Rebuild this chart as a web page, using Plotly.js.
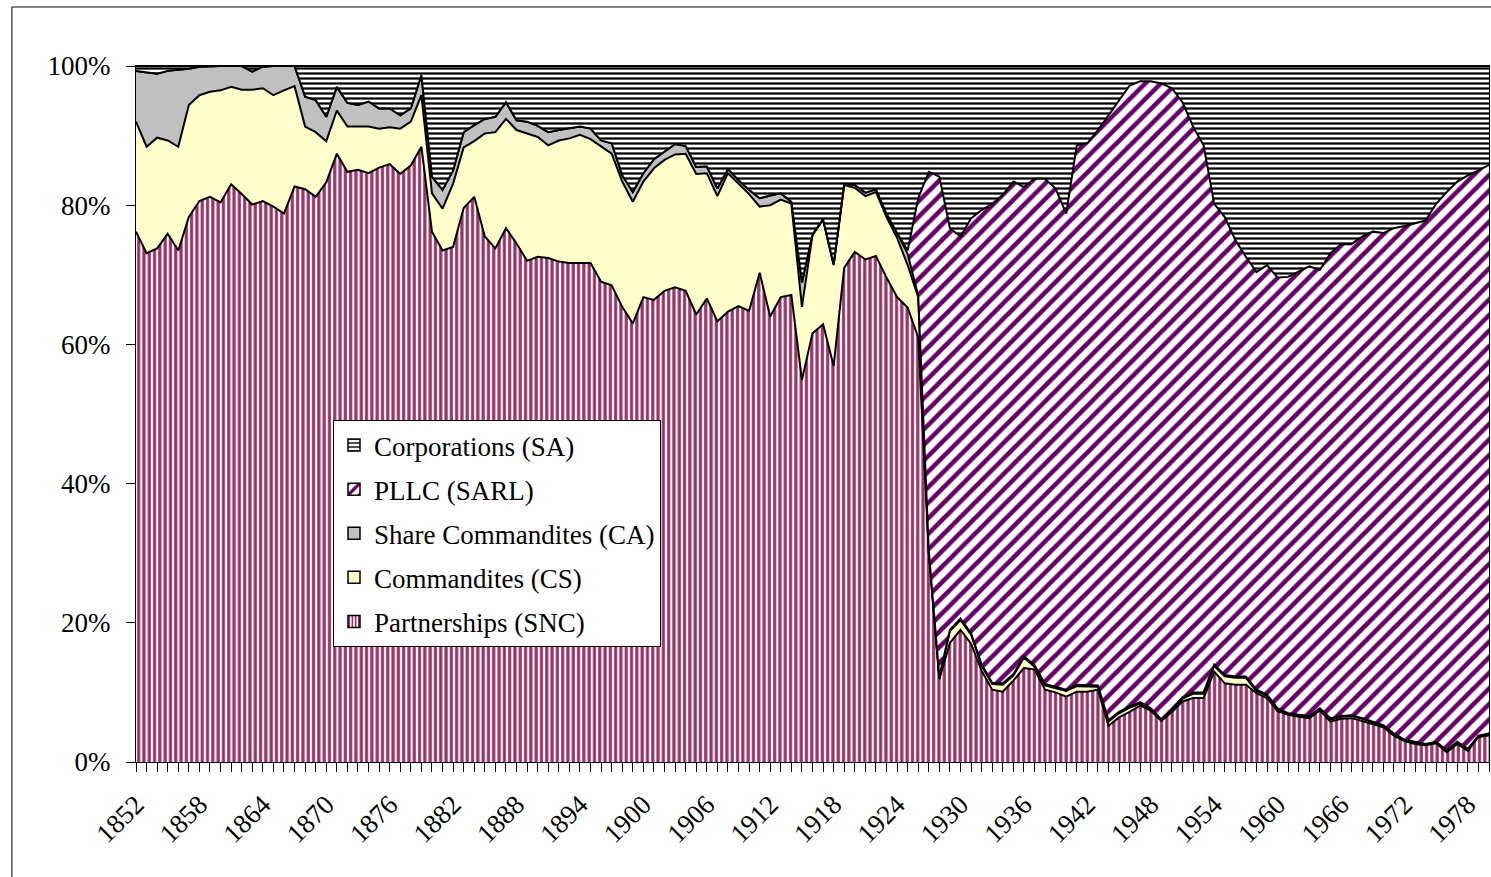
<!DOCTYPE html>
<html>
<head>
<meta charset="utf-8">
<script src="https://cdn.plot.ly/plotly-3.0.1.min.js"></script>
<style>
  html, body { margin: 0; padding: 0; background: #ffffff; }
  #chart { width: 1491px; height: 877px; }
</style>
</head>
<body>
<div id="chart"></div>
<script>
// Categories: years
var years = [
  1852,1853,1854,1855,1856,1857,1858,1859,1860,1861,
  1862,1863,1864,1865,1866,1867,1868,1869,1870,1871,
  1872,1873,1874,1875,1876,1877,1878,1879,1880,1881,
  1882,1883,1884,1885,1886,1887,1888,1889,1890,1891,
  1892,1893,1894,1895,1896,1897,1898,1899,1900,1901,
  1902,1903,1904,1905,1906,1907,1908,1909,1910,1911,
  1912,1913,1914,1915,1916,1917,1918,1919,1920,1921,
  1922,1923,1924,1925,1926,1927,1928,1929,1930,1931,
  1932,1933,1934,1935,1936,1937,1938,1939,1940,1941,
  1942,1943,1944,1945,1946,1947,1948,1949,1950,1951,
  1952,1953,1954,1955,1956,1957,1958,1959,1960,1961,
  1962,1963,1964,1965,1966,1967,1968,1969,1970,1971,
  1972,1973,1974,1975,1976,1977,1978,1979,1980
];

// Partnerships (SNC), % of total
var snc = [
  76.2,73.1,73.8,75.9,73.5,78.3,80.6,81.2,80.4,83.0,
  81.6,80.1,80.6,79.8,78.8,82.7,82.3,81.2,83.3,87.4,
  84.8,85.1,84.6,85.4,85.9,84.5,85.7,88.4,76.2,73.5,
  74.0,79.6,81.2,75.5,73.8,76.7,74.5,72.0,72.6,72.4,
  71.9,71.7,71.7,71.7,69.0,68.5,65.4,63.0,66.8,66.4,
  67.7,68.2,67.7,64.3,66.6,63.3,64.7,65.5,64.8,70.3,
  64.0,66.8,67.1,54.9,61.6,62.9,56.9,71.0,73.3,72.2,
  72.7,69.6,66.8,65.3,61.0,30.0,11.9,17.1,19.0,17.0,
  13.1,10.4,10.1,11.7,13.5,13.3,10.4,10.0,9.4,10.1,
  10.1,10.4,5.2,6.4,7.2,8.1,7.4,5.9,7.2,8.7,
  9.2,9.2,13.0,11.3,11.1,11.1,9.9,9.2,7.3,6.8,
  6.5,6.3,7.4,5.8,6.2,6.3,5.9,5.5,5.0,3.8,
  3.0,2.6,2.4,2.7,1.4,2.6,1.6,3.6,3.8
];

// Commandites (CS)
var cs = [
  15.8,15.3,15.9,13.4,14.9,16.1,15.2,15.1,16.1,14.0,
  15.0,16.5,16.2,16.0,17.7,14.4,9.0,9.3,5.9,6.2,
  6.5,6.2,6.7,5.6,5.3,6.5,6.3,7.4,5.5,6.0,
  9.1,8.7,8.0,14.8,16.7,15.7,16.3,18.3,17.2,16.2,
  17.4,17.9,18.4,17.8,19.4,18.9,18.0,17.5,16.6,18.9,
  18.8,19.1,19.7,20.2,18.0,18.0,19.9,17.6,16.8,9.5,
  16.0,14.0,13.1,10.5,14.1,15.0,14.5,11.9,9.2,9.1,
  9.2,8.7,8.5,6.1,5.8,0.3,0.2,1.7,1.4,1.3,
  0.7,0.8,1.0,0.7,1.5,0.4,0.6,0.6,0.8,0.8,
  0.8,0.4,0.6,0.6,0.6,0.3,0.1,0.1,0.2,0.4,
  0.6,0.6,0.8,1.0,1.0,1.0,0.3,0.3,0.2,0.1,
  0.2,0.2,0.2,0.3,0.3,0.3,0.3,0.2,0.2,0.2,
  0.1,0.2,0.1,0.1,0.2,0.2,0.2,0.1,0.2
];

// Share Commandites (CA)
var ca = [
  7.3,10.7,9.2,10.0,11.0,5.2,4.1,3.7,3.5,3.0,
  3.4,2.6,3.1,4.2,3.5,2.9,4.3,4.6,3.5,3.4,
  3.4,3.1,3.6,2.9,2.7,1.9,1.9,2.9,2.4,2.7,
  1.9,2.2,2.3,2.1,2.2,2.4,1.4,1.7,1.6,1.9,
  1.5,1.4,1.2,1.5,0.9,1.5,0.9,1.4,1.2,1.3,
  1.2,1.5,1.1,1.0,1.0,1.1,0.6,0.5,0.6,1.2,
  1.4,0.9,0.3,3.5,0.1,0.1,0.1,0.2,0.4,0.5,
  0.4,0.5,0.7,1.6,0.2,0.1,0.1,0.2,0.2,0.2,
  0.2,0.2,0.2,0.2,0.2,0.2,0.2,0.2,0.2,0.2,
  0.2,0.2,0.2,0.2,0.2,0.2,0.2,0.1,0.2,0.2,
  0.2,0.2,0.2,0.2,0.2,0.2,0.2,0.2,0.2,0.1,
  0.1,0.1,0.1,0.2,0.1,0.1,0.1,0.1,0.1,0.1,
  0.1,0.1,0.1,0.1,0.1,0.1,0.1,0.1,0.1
];

// PLLC (SARL)
var sarl = [
  0,0,0,0,0,0,0,0,0,0,
  0,0,0,0,0,0,0,0,0,0,
  0,0,0,0,0,0,0,0,0,0,
  0,0,0,0,0,0,0,0,0,0,
  0,0,0,0,0,0,0,0,0,0,
  0,0,0,0,0,0,0,0,0,0,
  0,0,0,0,0,0,0,0,0,0,
  0,0,0,0.5,14.0,54.4,71.9,57.7,54.9,59.6,
  65.3,68.8,70.2,70.8,67.4,69.9,72.6,71.6,68.4,77.5,
  77.8,79.8,86.9,87.9,89.2,89.2,90.1,91.4,89.2,85.5,
  81.3,78.6,66.2,65.8,62.7,60.3,60.0,61.7,61.9,62.7,
  63.6,64.6,63.0,66.8,67.8,67.7,69.2,70.4,70.7,72.6,
  73.8,74.5,75.2,77.3,80.2,80.5,82.4,81.2,81.7
];

// Corporations (SA)
var sa = [
  0.7,0.9,1.1,0.7,0.6,0.4,0.1,0,0,0,
  0,0.8,0.1,0,0,0,4.4,4.9,7.3,3.0,
  5.3,5.6,5.1,6.1,6.1,7.1,6.1,1.3,15.9,17.8,
  15.0,9.5,8.5,7.6,7.3,5.2,7.8,8.0,8.6,9.5,
  9.2,9.0,8.7,9.0,10.7,11.1,15.7,18.1,15.4,13.4,
  12.3,11.2,11.5,14.5,14.4,17.6,14.8,16.4,17.8,19.0,
  18.6,18.3,19.5,31.1,24.2,22.0,28.5,16.9,17.1,18.2,
  17.7,21.2,24.0,26.5,19.0,15.2,15.9,23.3,24.5,21.9,
  20.7,19.8,18.5,16.6,17.4,16.2,16.2,17.6,21.2,11.4,
  11.1,9.2,7.1,4.9,2.8,2.2,2.2,2.5,3.2,5.2,
  8.7,11.4,19.8,21.7,25.0,27.4,29.6,28.6,30.4,30.3,
  29.6,28.8,29.3,26.9,25.6,25.6,24.5,23.8,24.0,23.3,
  23.0,22.6,22.2,19.8,18.1,16.6,15.7,15.0,14.2
];

var seriesNames = ['Partnerships (SNC)', 'Commandites (CS)', 'Share Commandites (CA)', 'PLLC (SARL)', 'Corporations (SA)'];
var yTickVals = [0, 20, 40, 60, 80, 100];
var yTickText = ['0%', '20%', '40%', '60%', '80%', '100%'];

var FONT = 'Liberation Serif, "Times New Roman", Times, serif';

var styles = [
  { fillcolor: '#ffffff', pattern: { shape: '|', fgcolor: '#993366', bgcolor: '#ffffff', size: 5.3, solidity: 0.6 } },
  { fillcolor: '#FFFFCC', pattern: null },
  { fillcolor: '#C0C0C0', pattern: null },
  { fillcolor: '#ffffff', pattern: { shape: '/', fgcolor: '#660066', bgcolor: '#ffffff', size: 11, solidity: 0.42 } },
  { fillcolor: '#ffffff', pattern: { shape: '-', fgcolor: '#000000', bgcolor: '#ffffff', size: 5, solidity: 0.45 } }
];
var values = [snc, cs, ca, sarl, sa];

var traces = [];
for (var i = 0; i < values.length; i++) {
  var t = {
    type: 'scatter',
    mode: 'lines',
    x: years,
    y: values[i],
    name: seriesNames[i],
    stackgroup: 'one',
    groupnorm: 'percent',
    line: { color: '#000000', width: 2 },
    fillcolor: styles[i].fillcolor,
    showlegend: false,
    hoverinfo: 'skip'
  };
  if (styles[i].pattern) t.fillpattern = styles[i].pattern;
  traces.push(t);
}

// Legend entries (square swatches), listed top to bottom as in the reference
var legendOrder = [4, 3, 2, 1, 0];
var legendPatterns = [
  { shape: '|', fgcolor: '#993366', bgcolor: '#ffffff', size: 4, solidity: 0.55 },
  null,
  null,
  { shape: '/', fgcolor: '#660066', bgcolor: '#ffffff', size: 10, solidity: 0.4 },
  { shape: '-', fgcolor: '#000000', bgcolor: '#ffffff', size: 5, solidity: 0.35 }
];
legendOrder.forEach(function (k, j) {
  var m = { color: styles[k].fillcolor, line: { color: '#000000', width: 1.5 } };
  if (legendPatterns[k]) m.pattern = legendPatterns[k];
  traces.push({
    type: 'bar',
    x: [null],
    y: [null],
    name: seriesNames[k],
    legendgroup: 'g' + j,
    marker: m,
    showlegend: true,
    hoverinfo: 'skip'
  });
});

var layout = {
  width: 1491,
  height: 877,
  margin: { l: 136, r: 2, t: 66, b: 115, pad: 0 },
  paper_bgcolor: '#ffffff',
  plot_bgcolor: '#ffffff',
  font: { family: FONT, size: 27, color: '#000000' },
  showlegend: true,
  legend: {
    x: 0.1456, y: 0.4914, xanchor: 'left', yanchor: 'top',
    bgcolor: '#ffffff', bordercolor: '#000000', borderwidth: 1,
    font: { family: FONT, size: 27, color: '#000000' },
    traceorder: 'grouped',
    tracegroupgap: 6,
    itemwidth: 30
  },
  xaxis: {
    type: 'linear',
    range: [1852, 1980],
    tick0: 1852,
    dtick: 6,
    ticks: 'outside',
    ticklen: 9,
    tickcolor: '#000000',
    tickwidth: 1,
    tickangle: -45,
    ticklabelstandoff: 6,
    showgrid: false,
    zeroline: false,
    showline: true,
    linecolor: '#000000',
    linewidth: 1,
    mirror: true,
    minor: { dtick: 1, ticks: 'outside', ticklen: 9, tickcolor: '#000000', tickwidth: 1, showgrid: false },
    tickfont: { family: FONT, size: 27, color: '#000000' },
    fixedrange: true
  },
  yaxis: {
    range: [0, 100],
    tickvals: yTickVals,
    ticktext: yTickText,
    ticks: 'outside',
    ticklen: 9,
    tickcolor: '#000000',
    tickwidth: 1,
    ticklabelstandoff: 10,
    showgrid: false,
    zeroline: false,
    showline: true,
    linecolor: '#000000',
    linewidth: 1,
    mirror: true,
    tickfont: { family: FONT, size: 27, color: '#000000' },
    fixedrange: true
  },
  shapes: [
    {
      type: 'rect', xref: 'paper', yref: 'paper',
      x0: -0.0917, x1: 1.006, y0: -0.175, y1: 1.0848,
      line: { color: '#000000', width: 1 },
      fillcolor: 'rgba(0,0,0,0)',
      layer: 'above'
    }
  ]
};

Plotly.newPlot('chart', traces, layout, { displayModeBar: false, staticPlot: true });
</script>
</body>
</html>
